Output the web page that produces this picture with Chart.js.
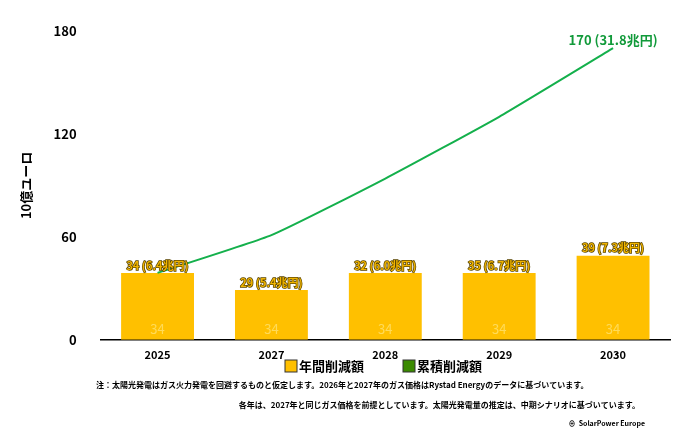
<!DOCTYPE html>
<html><head><meta charset="utf-8">
<script src="https://cdn.jsdelivr.net/npm/chart.js@4"></script>
<style>body{margin:0;background:#fff}#wrap{width:680px;height:435px}</style>
</head><body><div id="wrap"><canvas id="c"></canvas></div>
<script>
const years = ["2025", "2027", "2028", "2029", "2030"];
const annualBars = [39, 29, 39, 39, 49];
const annualLabels = ["34 (6.4兆円)", "29 (5.4兆円)", "32 (6.0兆円)", "35 (6.7兆円)", "39 (7.3兆円)"];
const cumulative = [39, 61, 94, 130, 170];
const cumulativeLabel = "170 (31.8兆円)";
const notes = [
  "注：太陽光発電はガス火力発電を回避するものと仮定します。2026年と2027年のガス価格はRystad Energyのデータに基づいています。",
  "各年は、2027年と同じガス価格を前提としています。太陽光発電量の推定は、中期シナリオに基づいています。"
];
const FONT = "'Noto Sans CJK JP', 'Noto Sans', sans-serif";

const annotate = {
  id: "annotate",
  afterDatasetsDraw(chart) {
    const ctx = chart.ctx;
    ctx.save();
    ctx.textAlign = "center";
    chart.getDatasetMeta(0).data.forEach((bar, i) => {
      ctx.font = "bold 11px " + FONT;
      ctx.textBaseline = "bottom";
      ctx.lineWidth = 1.5;
      ctx.strokeStyle = "#5a4500";
      ctx.strokeText(annualLabels[i], bar.x, bar.y - 2);
      ctx.fillStyle = "#f0b400";
      ctx.fillText(annualLabels[i], bar.x, bar.y - 2);
      ctx.fillStyle = "rgba(255,225,110,0.8)";
      ctx.font = "13px " + FONT;
      ctx.textBaseline = "middle";
      ctx.fillText("34", bar.x, chart.scales.y.getPixelForValue(6));
    });
    const pts = chart.getDatasetMeta(1).data;
    const last = pts[pts.length - 1];
    ctx.textBaseline = "bottom";
    ctx.fillStyle = "#119a3a";
    ctx.font = "bold 13px " + FONT;
    ctx.fillText(cumulativeLabel, last.x, last.y - 2);

    // legend
    const items = [["年間削減額", "#ffc000", 285], ["累積削減額", "#3a8a00", 403]];
    ctx.font = "bold 13px " + FONT;
    ctx.textAlign = "left";
    ctx.textBaseline = "middle";
    items.forEach(([t, c, x]) => {
      ctx.fillStyle = c;
      ctx.fillRect(x, 360, 12, 12);
      ctx.strokeStyle = "#333";
      ctx.lineWidth = 1;
      ctx.strokeRect(x, 360, 12, 12);
      ctx.fillStyle = "#000";
      ctx.fillText(t, x + 14, 366);
    });

    ctx.textBaseline = "bottom";
    ctx.font = "bold 8px " + FONT;
    ctx.fillText(notes[0], 96, 389);
    ctx.textAlign = "right";
    ctx.fillText(notes[1], 640, 409);
    ctx.font = "bold 7px " + FONT;
    ctx.fillText("⊕  SolarPower Europe", 645, 427);
    ctx.restore();
  }
};

new Chart(document.getElementById("c"), {
  data: {
    labels: years,
    datasets: [
      { type: "bar", label: "年間削減額", data: annualBars, backgroundColor: "#ffc000",
        barPercentage: 0.64, categoryPercentage: 1, order: 2 },
      { type: "line", label: "累積削減額", data: cumulative, borderColor: "#14b04c",
        backgroundColor: "#3a8a00", borderWidth: 2, pointRadius: 0, tension: 0.15, order: 1 }
    ]
  },
  options: {
    responsive: true, maintainAspectRatio: false, animation: false,
    layout: { padding: { top: 31, right: 10, bottom: 74, left: 14 } },
    plugins: {
      tooltip: { enabled: false },
      legend: { display: false }
    },
    scales: {
      x: {
        grid: { display: false },
        border: { color: "#000", width: 1.5 },
        ticks: { color: "#000", font: { family: FONT, size: 11, weight: "bold" }, padding: 0 }
      },
      y: {
        min: 0, max: 180,
        grid: { display: false },
        border: { display: false },
        ticks: { stepSize: 60, color: "#000", padding: 16, font: { family: FONT, size: 13, weight: "bold" } },
        title: { display: true, text: "10億ユーロ", color: "#000", font: { family: FONT, size: 13, weight: "bold" } }
      }
    }
  },
  plugins: [annotate]
});
</script></body></html>
